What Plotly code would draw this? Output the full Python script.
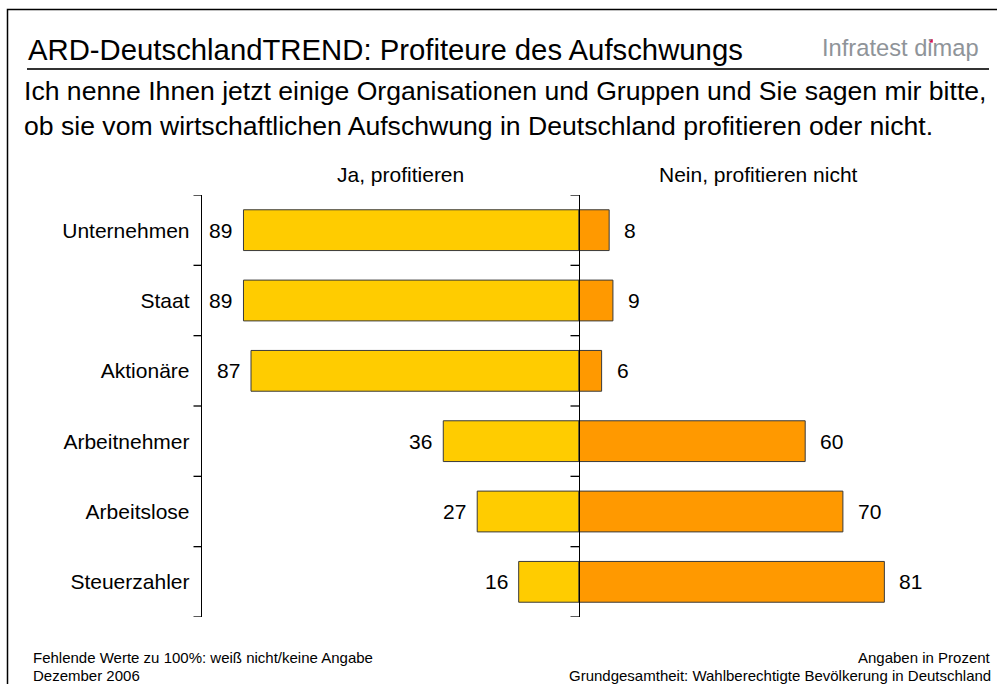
import plotly.graph_objects as go

# ---------------- data ----------------
categories = ["Unternehmen", "Staat", "Aktionäre", "Arbeitnehmer", "Arbeitslose", "Steuerzahler"]
ja_values = [89, 89, 87, 36, 27, 16]
nein_values = [8, 9, 6, 60, 70, 81]
ja_label = "Ja, profitieren"
nein_label = "Nein, profitieren nicht"
title_text = "ARD-DeutschlandTREND: Profiteure des Aufschwungs"
subtitle_lines = [
    "Ich nenne Ihnen jetzt einige Organisationen und Gruppen und Sie sagen mir bitte,",
    "ob sie vom wirtschaftlichen Aufschwung in Deutschland profitieren oder nicht.",
]
logo_text = "Infratest dimap"
footer_left = ["Fehlende Werte zu 100%: weiß nicht/keine Angabe", "Dezember 2006"]
footer_right = ["Angaben in Prozent", "Grundgesamtheit: Wahlberechtigte Bevölkerung in Deutschland"]

# ---------------- layout geometry (window pixels) ----------------
W, H = 997, 684
ML, PW = 202, 754
MR = W - ML - PW
MT = 195
PBOT = 617
MB = H - PBOT
PH = H - MT - MB
CENTER_X = ML + PW / 2


def px_x(p):
    return (p - ML) / PW


def px_y(p):
    return (PBOT - p) / PH


FONT = "Liberation Sans, Arial, Helvetica, sans-serif"
JA_COLOR = "#FFCC00"
NEIN_COLOR = "#FF9900"
EDGE = "#3a3a3a"

fig = go.Figure()
fig.add_trace(go.Bar(
    x=[-v for v in ja_values], y=categories, orientation="h",
    marker=dict(color=JA_COLOR, line=dict(color=EDGE, width=1)),
    width=0.58, name=ja_label, hoverinfo="skip",
    xaxis="x", yaxis="y",
))
fig.add_trace(go.Bar(
    x=nein_values, y=categories, orientation="h",
    marker=dict(color=NEIN_COLOR, line=dict(color=EDGE, width=1)),
    width=0.58, name=nein_label, hoverinfo="skip",
    xaxis="x", yaxis="y2",
))

annotations = []
for c, v in zip(categories, ja_values):
    annotations.append(dict(x=-v, y=c, xref="x", yref="y", text=str(v), showarrow=False,
                            xanchor="right", yanchor="middle", xshift=-9,
                            font=dict(family=FONT, size=21, color="black")))
for c, v in zip(categories, nein_values):
    annotations.append(dict(x=v, y=c, xref="x", yref="y", text=str(v), showarrow=False,
                            xanchor="left", yanchor="middle", xshift=13,
                            font=dict(family=FONT, size=21, color="black")))

# column headers
annotations.append(dict(x=-47.3, y=px_y(175), xref="x", yref="paper", text=ja_label,
                        showarrow=False, xanchor="center", yanchor="middle",
                        font=dict(family=FONT, size=21, color="black")))
annotations.append(dict(x=47.5, y=px_y(174), xref="x", yref="paper", text=nein_label,
                        showarrow=False, xanchor="center", yanchor="middle",
                        font=dict(family=FONT, size=21, color="black")))

# title, subtitle, logo
annotations.append(dict(x=px_x(26), y=px_y(50), xref="paper", yref="paper", text=title_text,
                        showarrow=False, xanchor="left", yanchor="middle",
                        font=dict(family=FONT, size=29.3, color="black")))
annotations.append(dict(x=px_x(981), y=px_y(48), xref="paper", yref="paper", text=logo_text,
                        showarrow=False, xanchor="right", yanchor="middle",
                        font=dict(family=FONT, size=23.7, color="#8f9499")))
for i, line in enumerate(subtitle_lines):
    annotations.append(dict(x=px_x(22), y=px_y(91 + 35 * i), xref="paper", yref="paper", text=line,
                            showarrow=False, xanchor="left", yanchor="middle",
                            font=dict(family=FONT, size=26.6, color="black")))

# footers
for i, line in enumerate(footer_left):
    annotations.append(dict(x=px_x(31), y=px_y(657 + 18 * i), xref="paper", yref="paper", text=line,
                            showarrow=False, xanchor="left", yanchor="middle",
                            font=dict(family=FONT, size=15, color="black")))
for i, line in enumerate(footer_right):
    annotations.append(dict(x=px_x(993), y=px_y(657 + 18 * i), xref="paper", yref="paper", text=line,
                            showarrow=False, xanchor="right", yanchor="middle",
                            font=dict(family=FONT, size=15, color="black")))

shapes = [
    # outer frame
    dict(type="rect", xref="paper", yref="paper", x0=px_x(7.5), x1=px_x(1010), y0=px_y(9.5), y1=px_y(700),
         line=dict(color="black", width=1.5), fillcolor="rgba(0,0,0,0)", layer="below"),
    # title underline
    dict(type="line", xref="paper", yref="paper", x0=px_x(27), x1=px_x(989), y0=px_y(69), y1=px_y(69),
         line=dict(color="#333333", width=2)),
    # magenta dot of the logo's i
    dict(type="rect", xref="paper", yref="paper", x0=px_x(929.6), x1=px_x(932.8), y0=px_y(39.2), y1=px_y(42.6),
         line=dict(width=0), fillcolor="#d4145a"),
]

# tick marks on category boundaries for both vertical axes
for b in range(len(categories) + 1):
    yb = b - 0.5
    for x_axis_px in (ML, CENTER_X):
        shapes.append(dict(type="line", xref="paper", yref="y",
                           x0=px_x(x_axis_px - 8.5), x1=px_x(x_axis_px), y0=yb, y1=yb,
                           line=dict(color="black", width=1.3)))

axis_common = dict(
    type="category", categoryorder="array", categoryarray=categories,
    range=[len(categories) - 0.5, -0.5],
    ticks="", showline=True, linecolor="black", linewidth=1.3,
    showgrid=False, zeroline=False,
)

fig.update_layout(
    width=W, height=H,
    margin=dict(l=ML, r=MR, t=MT, b=MB, pad=0),
    paper_bgcolor="white", plot_bgcolor="white",
    showlegend=False,
    xaxis=dict(range=[-100, 100], showline=False, showticklabels=False, ticks="",
               showgrid=False, zeroline=False, fixedrange=True),
    yaxis=dict(**axis_common, showticklabels=True, ticklabelstandoff=7,
               tickfont=dict(family=FONT, size=21, color="black")),
    yaxis2=dict(**axis_common, showticklabels=False, overlaying="y", anchor="free",
                position=0.5, side="left"),
    annotations=annotations,
    shapes=shapes,
    font=dict(family=FONT, color="black"),
)

fig.write_html(
    "out.html",
    config={"displayModeBar": False, "staticPlot": True},
    post_script="document.body.style.margin='0';document.body.style.overflow='hidden';",
)
